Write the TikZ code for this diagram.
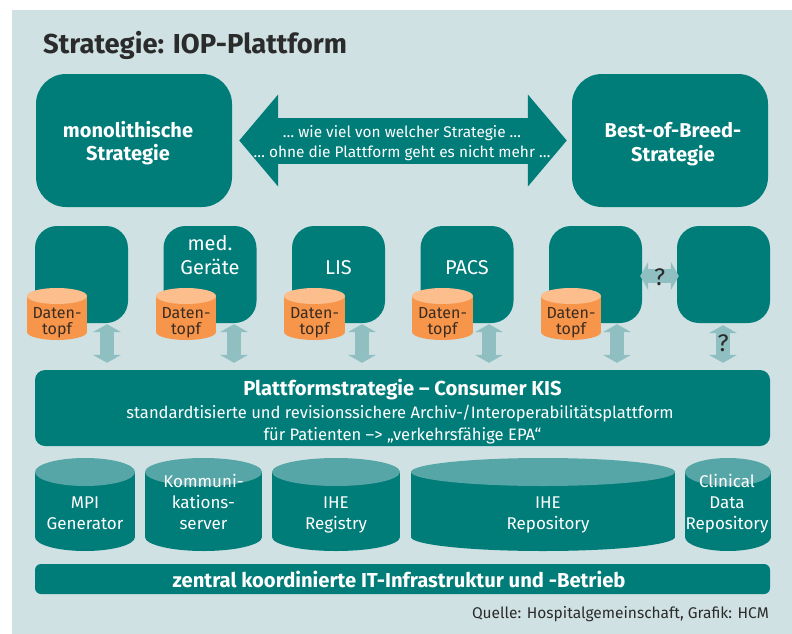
\documentclass[tikz,border=0pt]{standalone}
\usepackage{fontspec}
\setmainfont{Fira Sans}
\usetikzlibrary{calc,arrows.meta}
\definecolor{bgc}{HTML}{CFE1E3}
\definecolor{teal}{HTML}{007C79}
\definecolor{arrc}{HTML}{8FBFC1}
\definecolor{orbody}{HTML}{F7964B}
\definecolor{ortop}{HTML}{FBBE8C}
\definecolor{tealtop}{HTML}{56A6A7}
\definecolor{darkc}{HTML}{2B2B2B}
\definecolor{brownc}{HTML}{3A2C22}
\newcommand\drawcyl[8]{%
  \pgfmathsetmacro\cxa{(#2+#3)/2}\pgfmathsetmacro\rxa{(#3-#2)/2}%
  \fill[#7] ({#2},{#4+#6}) rectangle ({#3},{#5-#6});
  \fill[#7] (\cxa,{#5-#6}) ellipse [x radius=\rxa, y radius=#6];
  \fill[#8] (\cxa,{#4+#6}) ellipse [x radius=\rxa, y radius=#6];
  \coordinate (#1) at (\cxa,{(#4+#5)/2});
}
\tikzset{
  bigbox/.style={fill=teal, rounded corners=30pt, minimum width=196pt, minimum height=133pt, inner sep=0pt},
  bigtxt/.style={text=white, anchor=base, inner sep=0pt, font=\bfseries\fontsize{20}{24}\selectfont},
  appbox/.style={fill=teal, rounded corners=22pt, minimum width=93pt, minimum height=97pt, inner sep=0pt},
  applbl/.style={text=white, anchor=base, inner sep=0pt, font=\fontsize{20}{22}\selectfont},
  potlbl/.style={text=brownc, anchor=base, inner sep=0pt, font=\fontsize{16}{18}\selectfont},
  dblbl/.style={text=white, anchor=base, inner sep=0pt, font=\fontsize{17}{20}\selectfont},
  midtxt/.style={text=white, anchor=base, inner sep=0pt, font=\fontsize{15.4}{20}\selectfont},
  bar/.style={fill=teal, minimum width=735pt, inner sep=0pt},
  bartxt/.style={text=white, anchor=base, inner sep=0pt, font=\bfseries\fontsize{20.2}{22}\selectfont},
  plattxt/.style={text=white, anchor=base, inner sep=0pt, font=\fontsize{16.6}{20}\selectfont},
  fatarr/.style={draw=arrc, line width=14pt, {Triangle[length=8pt,width=28pt]}-{Triangle[length=8pt,width=28pt]}},
  qmark/.style={text=darkc, inner sep=0pt, font=\fontsize{24}{26}\selectfont},
}
\begin{document}
\begin{tikzpicture}[x=1pt,y=-1pt]
\useasboundingbox (0,0) rectangle (792,634);
\fill[white] (0,0) rectangle (792,634);
\fill[bgc] (12,10) rectangle (792,634);

\node[anchor=base west, inner sep=0pt, text=darkc, font=\bfseries\fontsize{27.4}{30}\selectfont] (title) at (43,53) {Strategie: IOP-Plattform};

% top row
\node[bigbox] (mono) at (134,140.5) {};
\node[bigbox] (bob) at (670,140.5) {};
\node[bigtxt] (mono1) at (128,137) {monolithische};
\node[bigtxt] (mono2) at (128,160.5) {Strategie};
\node[bigtxt] (bob1) at (673,137.5) {Best-of-Breed-};
\node[bigtxt] (bob2) at (673,161) {Strategie};
\draw[draw=teal, line width=46pt, shorten <=7pt, shorten >=5pt,
  {Triangle[length=39pt,width=90pt]}-{Triangle[length=39pt,width=90pt]}] (mono.east) -- (bob.west);
\node[midtxt] (mid1) at (402,137) {\dots\ wie viel von welcher Strategie \dots};
\node[midtxt] (mid2) at (402,157) {\dots\ ohne die Plattform geht es nicht mehr \dots};

% app row
\node[appbox] (b1) at (81.5,274.5) {};
\node[appbox] (b2) at (210,274.5) {};
\node[appbox] (b3) at (338.5,274.5) {};
\node[appbox] (b4) at (467,274.5) {};
\node[appbox] (b5) at (595.5,274.5) {};
\node[appbox] (b6) at (723.5,274.5) {};
\node[applbl] (l2a) at (210,250) {med.};
\node[applbl] (l2b) at (210,274) {Geräte};
\node[applbl] (l3) at (338.5,274) {LIS};
\node[applbl] (l4) at (467,274) {PACS};

% Datentopf cylinders
\drawcyl{c1}{27}{87}{288}{340}{8}{orbody}{ortop}
\drawcyl{c2}{156}{216}{288}{340}{8}{orbody}{ortop}
\drawcyl{c3}{284}{345}{288}{340}{8}{orbody}{ortop}
\drawcyl{c4}{412}{473}{288}{340}{8}{orbody}{ortop}
\drawcyl{c5}{541}{601}{288}{340}{8}{orbody}{ortop}
\foreach \c in {c1,c2,c3,c4,c5}{
  \node[potlbl] at ($(\c)+(0,4)$) {Daten-};
  \node[potlbl] at ($(\c)+(0,20.5)$) {topf};
}

% platform
\node[bar, rounded corners=10pt, minimum height=76pt] (plat) at (402.5,408) {};
\node[bartxt] (pt1) at (402.5,395) {Plattformstrategie – Consumer KIS};
\node[plattxt] (pt2) at (400,418) {standardtisierte und revisionssichere Archiv-/Interoperabilitätsplattform};
\node[plattxt] (pt3) at (402.5,440) {für Patienten –> „verkehrsfähige EPA“};

% vertical arrows
\foreach \b/\dx in {b1/25.5,b2/24,b3/23.5,b4/22,b5/21.5}{
  \draw[fatarr] ($(\b.south)+(\dx,1)$) -- ($(\b.south |- plat.north)+(\dx,-7)$);
}
\coordinate (a6t) at ($(b6.south)+(-0.5,2)$);
\coordinate (a6b) at ($(b6.south |- plat.north)+(-0.5,-7)$);
\draw[fatarr] (a6t) -- (a6b);
\node[qmark] (q6) at ($(a6t)!0.5!(a6b)+(0,-0.5)$) {?};
\draw[fatarr] ($(b5.east)+(-2,1.5)$) -- ($(b6.west)+(2,1.5)$);
\node[qmark] (q56) at ($(b5.east)!0.5!(b6.west)+(0,2.5)$) {?};

% bottom cylinders
\drawcyl{d1}{35}{135}{458}{551}{14}{teal}{tealtop}
\drawcyl{d2}{145}{262}{458}{551}{14}{teal}{tealtop}
\drawcyl{d3}{272}{400}{458}{551}{14}{teal}{tealtop}
\drawcyl{d4}{411}{675}{458}{551}{14}{teal}{tealtop}
\drawcyl{d5}{685}{771}{458}{551}{14}{teal}{tealtop}
\node[dblbl] at (85,508) {MPI};
\node[dblbl] at (85,529) {Generator};
\node[dblbl] at (203.5,487) {Kommuni-};
\node[dblbl] at (203.5,508) {kations-};
\node[dblbl] at (203.5,529) {server};
\node[dblbl] at (336,508) {IHE};
\node[dblbl] at (336,529) {Registry};
\node[dblbl] at (548,508) {IHE};
\node[dblbl] at (548,529) {Repository};
\node[dblbl] at (727,487) {Clinical};
\node[dblbl] at (727,508) {Data};
\node[dblbl] at (727,529) {Repository};

% bottom bar
\node[bar, rounded corners=6pt, minimum height=30pt] (infra) at (402.5,579) {};
\node[bartxt] (it) at (399,587) {zentral koordinierte IT-Infrastruktur und -Betrieb};

\node[anchor=base east, inner sep=0pt, text=darkc, font=\fontsize{15.5}{17}\selectfont] (src) at (769,618) {Quelle: Hospitalgemeinschaft, Grafik: HCM};
\end{tikzpicture}
\end{document}
